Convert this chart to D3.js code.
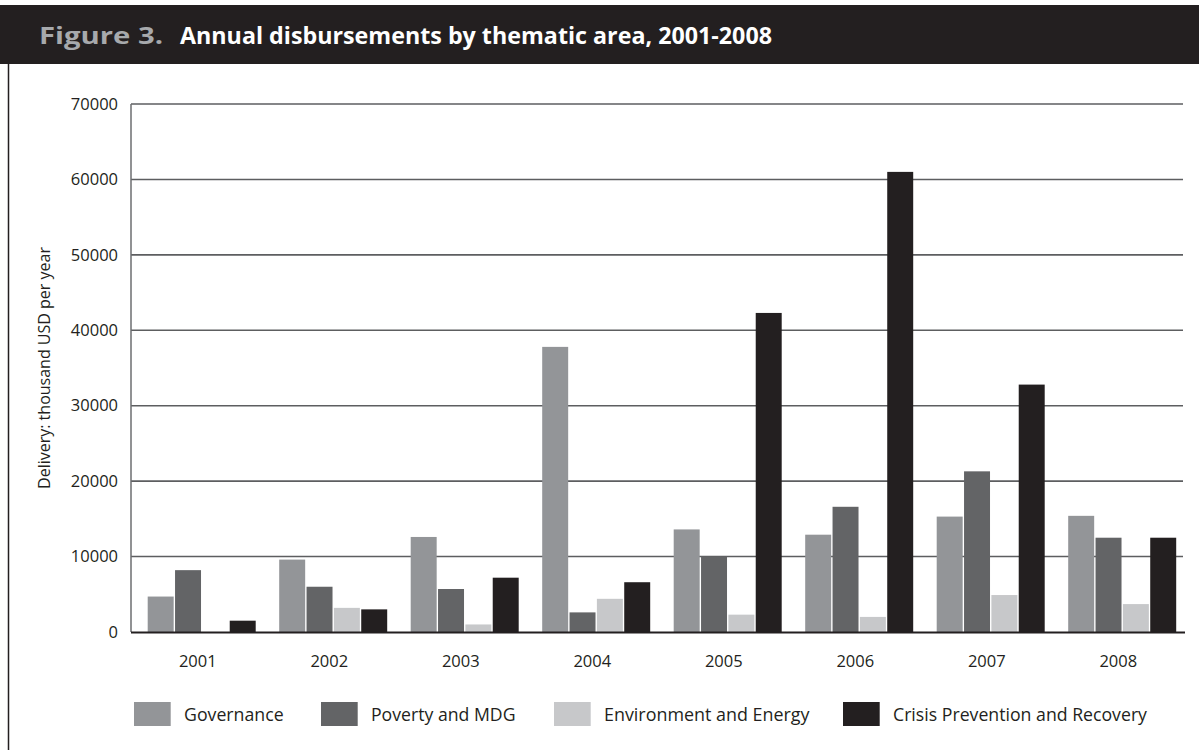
<!DOCTYPE html>
<html><head><meta charset="utf-8">
<script src="https://cdn.jsdelivr.net/npm/d3@7"></script>
<style>body{margin:0;background:#fff;} svg{display:block;font-family:"Open Sans",sans-serif;}</style>
</head><body><svg id="c" width="1199" height="750"></svg>
<script>
const years = ["2001","2002","2003","2004","2005","2006","2007","2008"];
const seriesNames = ["Governance","Poverty and MDG","Environment and Energy","Crisis Prevention and Recovery"];
const governance  = [4700, 9600, 12600, 37800, 13600, 12900, 15300, 15400];
const poverty     = [8200, 6000, 5700, 2600, 10000, 16600, 21300, 12500];
const environment = [0, 3200, 1000, 4400, 2300, 2000, 4900, 3700];
const crisis      = [1500, 3000, 7200, 6600, 42300, 61000, 32800, 12500];
const yTicks = [0,10000,20000,30000,40000,50000,60000,70000];
const colors = ["#939598","#636466","#c7c8ca","#231f20"];
const titleA = "Figure 3.";
const titleB = "Annual disbursements by thematic area, 2001-2008";
const yTitle = "Delivery: thousand USD per year";

const seriesVals = [governance, poverty, environment, crisis];
const svg = d3.select("#c");
const ink = "#231f20";

// title bar
svg.append("rect").attr("x",0).attr("y",5).attr("width",1199).attr("height",59).attr("fill",ink);
svg.append("line").attr("x1",8.5).attr("x2",8.5).attr("y1",64).attr("y2",750).attr("stroke",ink).attr("stroke-width",1.5);
svg.append("text").attr("x",39).attr("y",44).attr("font-size",24).attr("font-weight",700)
  .attr("fill","#a7a9ac").attr("textLength",124).attr("lengthAdjust","spacingAndGlyphs").text(titleA);
svg.append("text").attr("x",180).attr("y",44).attr("font-size",24).attr("font-weight",700)
  .attr("fill","#fff").attr("textLength",592).attr("lengthAdjust","spacingAndGlyphs").text(titleB);

const pLeft = 131, pRight = 1183, pTop = 104, pBase = 632;
const y = d3.scaleLinear().domain([0,70000]).range([pBase, pTop]);
const x0 = d3.scaleBand().domain(years).range([136,1188]).padding(0);
const x1 = d3.scaleBand().domain(seriesNames).range([11.7, 119.7]).paddingInner(0.05);

// gridlines
svg.append("g").selectAll("line").data(yTicks.filter(d=>d>0)).join("line")
  .attr("x1",pLeft).attr("x2",pRight).attr("y1",d=>y(d)).attr("y2",d=>y(d))
  .attr("stroke","#5d5e60").attr("stroke-width",1.6);
// left axis
svg.append("line").attr("x1",pLeft).attr("x2",pLeft).attr("y1",pTop).attr("y2",pBase)
  .attr("stroke","#6d6e71").attr("stroke-width",1.5);

// y labels
svg.append("g").selectAll("text").data(yTicks).join("text")
  .attr("x",118).attr("y",d=>y(d)).attr("dy","0.35em").attr("text-anchor","end")
  .attr("font-size",16.5).attr("fill",ink).text(d=>d);

// bars
const groups = svg.append("g").selectAll("g").data(years).join("g")
  .attr("transform",d=>`translate(${x0(d)},0)`);
groups.selectAll("rect").data((d,i)=>seriesNames.map((s,j)=>({s, v: seriesVals[j][i], c: colors[j]}))).join("rect")
  .attr("x",d=>x1(d.s)).attr("width",x1.bandwidth())
  .attr("y",d=>y(d.v)).attr("height",d=>pBase - y(d.v)).attr("fill",d=>d.c);

// x axis line
svg.append("line").attr("x1",pLeft).attr("x2",1185).attr("y1",pBase+0.5).attr("y2",pBase+0.5)
  .attr("stroke",ink).attr("stroke-width",2);

// x labels
svg.append("g").selectAll("text").data(years).join("text")
  .attr("x",d=>x0(d)+x0.bandwidth()/2 - 4).attr("y",661).attr("dy","0.35em").attr("text-anchor","middle")
  .attr("font-size",16.5).attr("fill",ink).text(d=>d);

// y title
svg.append("text").attr("transform","translate(44,368) rotate(-90)").attr("text-anchor","middle")
  .attr("dy","0.35em").attr("font-size",16).attr("fill",ink).text(yTitle);

// legend
const legX = [134, 321, 554, 843];
const legW = [99.6, 144.5, 205.5, 254];
const lg = svg.append("g").selectAll("g").data(seriesNames).join("g")
  .attr("transform",(d,i)=>`translate(${legX[i]},0)`);
lg.append("rect").attr("x",0).attr("y",702).attr("width",36.7).attr("height",24).attr("fill",(d,i)=>colors[i]);
lg.append("text").attr("x",50).attr("y",715).attr("dy","0.35em").attr("font-size",17.5).attr("fill",ink)
  .attr("textLength",(d,i)=>legW[i]).attr("lengthAdjust","spacingAndGlyphs").text(d=>d);
</script></body></html>
